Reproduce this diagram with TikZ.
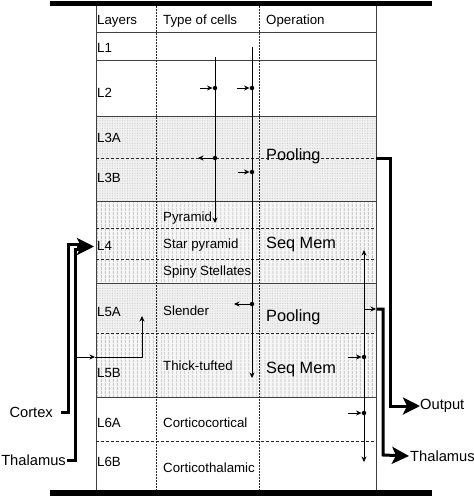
\documentclass[tikz,border=0pt]{standalone}
\usepackage{fontspec}
\setmainfont{Liberation Sans}
\usetikzlibrary{arrows.meta, patterns.meta}

\begin{document}
\begin{tikzpicture}[
    x=1pt, y=-1pt,
    >={Stealth[length=5.5pt,width=5pt]},
    line join=round,
    small/.style={font=\fontsize{13.3}{15}\selectfont, inner sep=0pt, anchor=base west},
    big/.style={font=\fontsize{16.3}{18}\selectfont, inner sep=0pt, anchor=base west},
    side/.style={font=\fontsize{14.7}{17}\selectfont, inner sep=0pt},
    tableline/.style={draw=black!75, line width=0.7pt},
    rowsplit/.style={black!85, line width=0.6pt, dash pattern=on 3pt off 2pt},
    colsplit/.style={black!85, line width=0.8pt, dash pattern=on 1.5pt off 1.5pt},
    fibre/.style={line width=0.7pt},
    tract/.style={line width=3pt, line join=miter},
    bigtip/.style={-{Stealth[length=17pt,width=17pt,inset=4pt]}},
    syn/.style={circle, fill, inner sep=0pt, minimum size=4.5pt},
    dotfill/.style={fill=gray!12, postaction={pattern={Dots[distance=2.5pt,radius=0.5pt]}, pattern color=gray!45}},
    linefill/.style={fill=gray!6, postaction={pattern={Lines[angle=90,distance=4pt,line width=1.1pt]}, pattern color=gray!45}}
]

  % ==================== PARAMETERS ====================
  \def\xL{96}    % left edge of the table
  \def\xR{376}   % right edge of the table
  \def\xA{156}   % column "Type of cells"
  \def\xB{259}   % column "Operation"
  \def\xP{215}   % first vertical fibre
  \def\xQ{252}   % second vertical fibre
  \def\xS{364}   % right vertical fibre

  \useasboundingbox (0,0) rectangle (474,496);

  % ==================== 1. SHADED LAYERS ====================
  \path[dotfill]  (\xL,116) rectangle (\xR,201);
  \path[linefill] (\xL,201) rectangle (\xR,283);
  \path[dotfill]  (\xL,283) rectangle (\xR,333);
  \path[linefill] (\xL,333) rectangle (\xR,397);

  % ==================== 2. TABLE ====================
  \draw[tableline] (\xL,6) -- (\xL,490) (\xR,6) -- (\xR,490);
  \foreach \y in {32,60,116,201,283,397}
      \draw[tableline] (\xL,\y) -- (\xR,\y);
  \foreach \y in {158,228,259,333,441}
      \draw[rowsplit] (\xL,\y) -- (\xR,\y);
  \foreach \x in {\xA,\xB}
      \draw[colsplit] (\x,6) -- (\x,490);

  % top and bottom bars
  \fill (50,0.5) rectangle (432,6);
  \fill (50,490) rectangle (432,495.5);

  % ==================== 3. TEXT ====================
  \node[small] (hLayers) at (97,24)  {Layers};
  \node[small] (hType)   at (163,24) {Type of cells};
  \node[small] (hOp)     at (266,24) {Operation};

  \foreach \name/\y in {L1/52, L2/97, L3A/142, L3B/182, L4/250, L5A/316, L5B/377, L6A/427, L6B/466}
      \node[small] (lab\name) at (97,\y) {\name};

  \foreach \name/\txt/\y in {pyr/Pyramid/221, star/Star pyramid/248, spiny/Spiny Stellates/275,
                             slender/Slender/315, thick/Thick-tufted/370,
                             cc/Corticocortical/427, ct/Corticothalamic/472}
      \node[small] (\name) at (163,\y) {\txt};

  \node[big] (poolA) at (266,160) {Pooling};
  \node[big] (seqA)  at (266,248) {Seq Mem};
  \node[big] (poolB) at (266,321) {Pooling};
  \node[big] (seqB)  at (266,373) {Seq Mem};

  % ==================== 4. VERTICAL FIBRES ====================
  % first fibre
  \draw[fibre,->] (\xP,57) -- (\xP,223);
  \node[syn] (p1) at (\xP,88) {};
  \node[syn] (p2) at (\xP,158) {};
  \draw[fibre,->] (200,88) -- (p1);
  \draw[fibre,->] (p2) -- (198,158);

  % second fibre
  \draw[fibre,->] (\xQ,47) -- (\xQ,378);
  \node[syn] (q1) at (\xQ,88) {};
  \node[syn] (q2) at (\xQ,172) {};
  \node[syn] (q3) at (\xQ,304) {};
  \draw[fibre,->] (237,88) -- (q1);
  \draw[fibre,->] (238,172) -- (q2);
  \draw[fibre,->] (q3) -- (234,304);

  % right fibre
  \draw[fibre,<->] (\xS,250) -- (\xS,462);
  \node[syn] (s1) at (\xS,357) {};
  \node[syn] (s2) at (\xS,413) {};
  \draw[fibre,->] (348,357) -- (s1);
  \draw[fibre,->] (348,413) -- (s2);

  % ==================== 5. INPUTS ====================
  \node[side, anchor=east] (cortex) at (53,412) {Cortex};
  \node[side, anchor=east] (thalIn) at (66,460) {Thalamus};
  \coordinate (L4in) at (94,246.5);

  \draw[tract] ([xshift=8pt]cortex.east) -| (68,244) -- (82,244);
  \draw[tract] ([xshift=1pt]thalIn.east) -| (75,249) -- (82,249);
  \draw[tract, bigtip] (77,246.5) -- (L4in);

  % branch to L5
  \coordinate (br) at (75,357);
  \draw[fibre,->] (br) -- (95,357);
  \draw[fibre,->] (95,357) -| (142,316);

  % ==================== 6. OUTPUTS ====================
  \node[side, anchor=west] (output)  at (420,406) {Output};
  \node[side, anchor=west] (thalOut) at (410,456) {Thalamus};

  \draw[tract, bigtip] (\xR,158) -| (390,406) -- (output.west);
  \draw[fibre,->] (365,309) -- (\xR,309);
  \draw[tract, bigtip] (377,309) -| (383,455) -- ([xshift=-1pt]thalOut.west);

\end{tikzpicture}
\end{document}
